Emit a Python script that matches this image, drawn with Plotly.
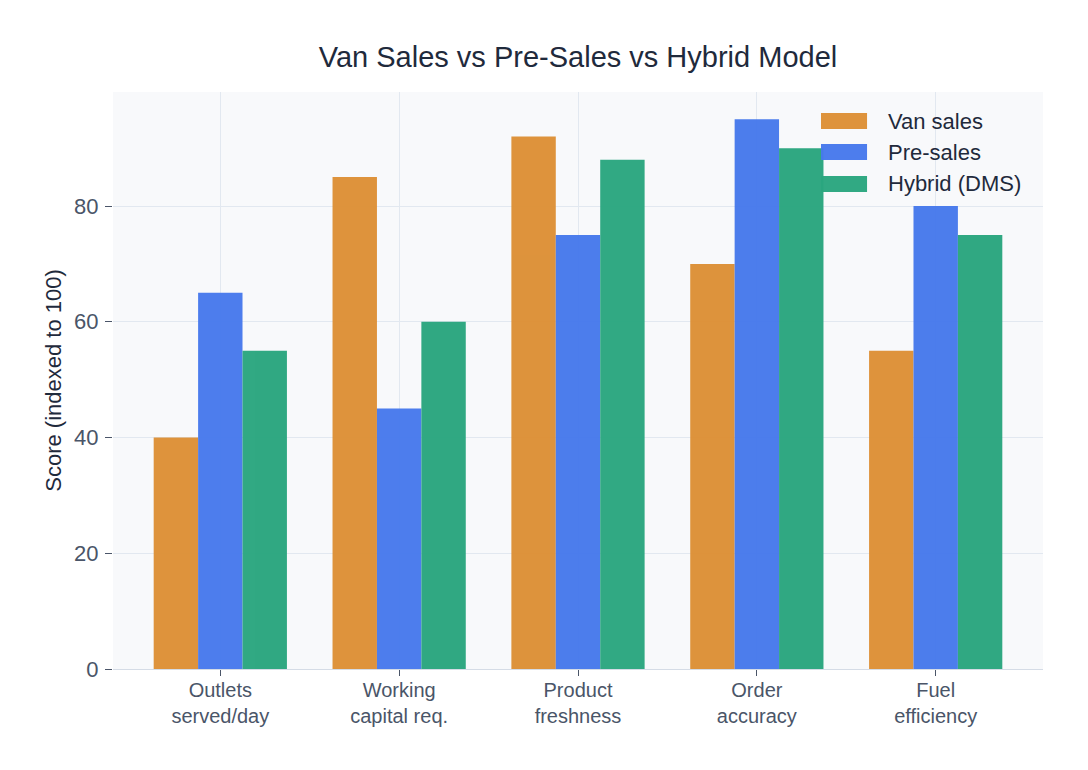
import plotly.graph_objects as go

categories = ["Outlets<br>served/day", "Working<br>capital req.", "Product<br>freshness", "Order<br>accuracy", "Fuel<br>efficiency"]
series_names = ["Van sales", "Pre-sales", "Hybrid (DMS)"]
van_sales = [40, 85, 92, 70, 55]
pre_sales = [65, 45, 75, 95, 80]
hybrid = [55, 60, 88, 90, 75]
colors = ["#DD9036", "#4779EC", "#2AA67F"]

FONT = "Liberation Sans, Arial, sans-serif"

fig = go.Figure()
for name, vals, c in zip(series_names, [van_sales, pre_sales, hybrid], colors):
    fig.add_trace(go.Bar(x=categories, y=vals, name=name, marker=dict(color=c, line=dict(width=0)),
                         opacity=0.97, showlegend=False))

# custom legend (wide swatches) in plot-domain coordinates
leg_x0, leg_x1, leg_tx = 0.7613, 0.8108, 0.8312
leg_rows = [0.9497, 0.8960, 0.8406]
half_h = 0.0139
for name, c, yc in zip(series_names, colors, leg_rows):
    fig.add_shape(type="rect", xref="x domain", yref="y domain", x0=leg_x0, x1=leg_x1,
                  y0=yc - half_h, y1=yc + half_h, fillcolor=c, opacity=0.97, line=dict(width=0), layer="above")
    fig.add_annotation(xref="x domain", yref="y domain", x=leg_tx, y=yc, text=name, showarrow=False,
                       xanchor="left", yanchor="middle", font=dict(size=22, color="#1F2A3C", family=FONT))

fig.update_layout(
    width=1088, height=770,
    margin=dict(l=113, r=45, t=92, b=101),
    barmode="group", bargap=0.255, bargroupgap=0,
    paper_bgcolor="white", plot_bgcolor="#F8F9FB",
    font=dict(family=FONT, color="#4A5568", size=16),
    title=dict(text="Van Sales vs Pre-Sales vs Hybrid Model", xref="paper", x=0.5, xanchor="center",
               y=0.926, yanchor="middle", font=dict(size=29, color="#1F2A3C")),
    xaxis=dict(range=[-0.6, 4.6], showgrid=True, gridcolor="#E2E8F0", layer="above traces", ticks="outside", ticklen=6,
               tickcolor="#4A5568", tickfont=dict(size=20, color="#4A5568"), ticklabelstandoff=-3,
               showline=True, linecolor="#D5DCE6", linewidth=1),
    yaxis=dict(range=[0, 99.7], dtick=20, showgrid=True, gridcolor="#E2E8F0", layer="above traces",
               ticks="outside", ticklen=7, tickcolor="#4A5568", tickfont=dict(size=22, color="#4A5568"),
               ticklabelstandoff=2,
               zeroline=False, title=dict(text="Score (indexed to 100)", font=dict(size=22, color="#1F2A3C"), standoff=6)),
)

fig.write_html("out.html")
